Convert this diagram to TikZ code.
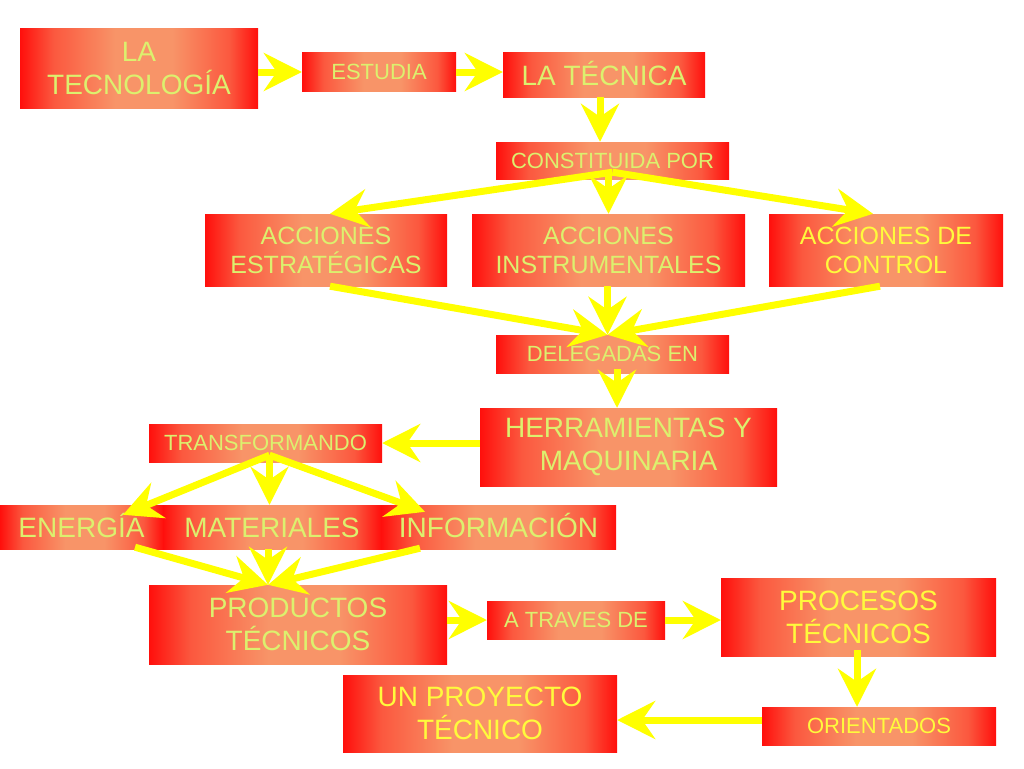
\documentclass[tikz,border=0pt]{standalone}
\usepackage{fontspec}
\setmainfont{Liberation Sans}
\usetikzlibrary{arrows.meta,calc}
\definecolor{bxred}{RGB}{255,15,12}
\definecolor{bxlight}{RGB}{248,148,104}
\colorlet{bxmid}{bxred!45!bxlight}
\definecolor{txtg}{RGB}{220,240,110}
\definecolor{txty}{RGB}{255,250,60}
\definecolor{arry}{RGB}{255,255,0}
\pgfdeclarehorizontalshading{boxsh}{100bp}{color(0bp)=(bxred); color(25bp)=(bxred); color(32bp)=(bxmid); color(45bp)=(bxlight); color(57bp)=(bxlight); color(69bp)=(bxmid); color(75bp)=(bxred); color(100bp)=(bxred)}
\newcommand\szbig{\fontsize{28}{33}\selectfont}
\newcommand\szmed{\fontsize{25}{29}\selectfont}
\newcommand\szsml{\fontsize{22}{26}\selectfont}
\begin{document}
\begin{tikzpicture}[x=1pt,y=-1pt,
  box/.style={shade,shading=boxsh,inner sep=0pt,align=center,text=txtg},
  bigbox/.style={box,font=\szbig},
  medbox/.style={box,font=\szmed},
  smlbox/.style={box,font=\szsml},
  onebig/.style={text height=20pt,text depth=0pt},
  onesml/.style={text height=15.8pt,text depth=0pt},
  ytext/.style={text=txty},
  arr/.style={draw=arry,line width=7pt,-{Stealth[length=38pt,width=38pt,inset=13pt]}}]
\fill[white] (0,0) rectangle (1024,768);
\useasboundingbox (0,0) rectangle (1024,768);

\node[bigbox,minimum width=238pt,minimum height=79pt] (tec) at (139,68.5) {LA\\TECNOLOGÍA};
\node[smlbox,onesml,minimum width=154pt,minimum height=38pt] (est) at (379,72) {ESTUDIA};
\node[bigbox,onebig,minimum width=202pt,minimum height=44pt] (tecn) at (604,75) {LA TÉCNICA};
\node[smlbox,onesml,minimum width=233pt,minimum height=37pt] (const) at (612.5,160.5) {CONSTITUIDA POR};
\node[medbox,minimum width=242pt,minimum height=72pt] (ae) at (326,250) {ACCIONES\\ESTRATÉGICAS};
\node[medbox,minimum width=273pt,minimum height=72pt] (ai) at (608.5,250) {ACCIONES\\INSTRUMENTALES};
\node[medbox,ytext,minimum width=234pt,minimum height=72pt] (ac) at (886,250) {ACCIONES DE\\CONTROL};
\node[smlbox,onesml,minimum width=233pt,minimum height=38pt] (del) at (612.5,354) {DELEGADAS EN};
\node[bigbox,minimum width=297pt,minimum height=78pt] (herr) at (628.5,447) {HERRAMIENTAS Y\\MAQUINARIA};
\node[smlbox,onesml,minimum width=233pt,minimum height=38pt] (trans) at (265.5,443) {TRANSFORMANDO};
\node[bigbox,onebig,minimum width=163pt,minimum height=44pt] (ene) at (81.5,527) {ENERGÍA};
\node[bigbox,onebig,minimum width=218pt,minimum height=44pt] (mat) at (272,527) {MATERIALES};
\node[bigbox,onebig,minimum width=235pt,minimum height=44pt] (inf) at (498.5,527) {INFORMACIÓN};
\node[bigbox,minimum width=298pt,minimum height=79pt] (prod) at (298,624.5) {PRODUCTOS\\TÉCNICOS};
\node[smlbox,onesml,minimum width=178pt,minimum height=38pt] (atr) at (576,620) {A TRAVES DE};
\node[bigbox,ytext,minimum width=275pt,minimum height=78pt] (proc) at (858.5,617) {PROCESOS\\TÉCNICOS};
\node[bigbox,ytext,minimum width=274pt,minimum height=77pt] (proy) at (480,713.5) {UN PROYECTO\\TÉCNICO};
\node[smlbox,onesml,ytext,minimum width=234pt,minimum height=38pt] (ori) at (879,726) {ORIENTADOS};

% connectors
\draw[arr] (tec.east |- est.west) -- (est.west);
\draw[arr] (est.east) -- (est.east -| tecn.west);
\draw[arr] ($(tecn.south)+(-4,0)$) -- ($(tecn.south |- const.north)+(-4,0)$);
\coordinate (cs) at ($(const.south)+(0,-7)$);
\draw[arr] (cs) -- ($(ae.north)+(4,0)$);
\draw[arr] (ai.north |- cs) -- (ai.north);
\draw[arr] (cs) -- ($(ac.north)+(-13,0)$);
\coordinate (dt) at ($(del.north)+(-5,0)$);
\draw[arr] ($(ae.south)+(4,0)$) -- (dt);
\draw[arr] (ai.south -| dt) -- (dt);
\draw[arr] ($(ac.south)+(-6,0)$) -- (dt);
\draw[arr] ($(del.south)+(4.5,-4)$) -- ($(del.south |- herr.north)+(4.5,0)$);
\draw[arr] (trans.east -| herr.west) -- (trans.east);
\coordinate (ts) at ($(trans.south)+(4,-7)$);
\draw[arr] (ts) -- ($(ene.north)+(41.5,10)$);
\draw[arr] (ts) -- (ts |- mat.north);
\draw[arr] (ts) -- ($(inf.north)+(-73.5,7)$);
\coordinate (pt) at ($(prod.north)+(-30,0)$);
\draw[arr] ($(ene.south)+(53.5,-2)$) -- (pt);
\draw[arr] (mat.south -| pt) -- (pt);
\draw[arr] ($(inf.south)+(-78.5,-1)$) -- (pt);
\draw[arr] (prod.east |- atr.west) -- (atr.west);
\draw[arr] (atr.east) -- (atr.east -| proc.west);
\draw[arr] ($(proc.south)+(-1.5,-6)$) -- ($(proc.south |- ori.north)+(-1.5,0)$);
\coordinate (os) at ($(ori.west)+(0,-6)$);
\draw[arr] (os) -- (os -| proy.east);
\end{tikzpicture}
\end{document}
